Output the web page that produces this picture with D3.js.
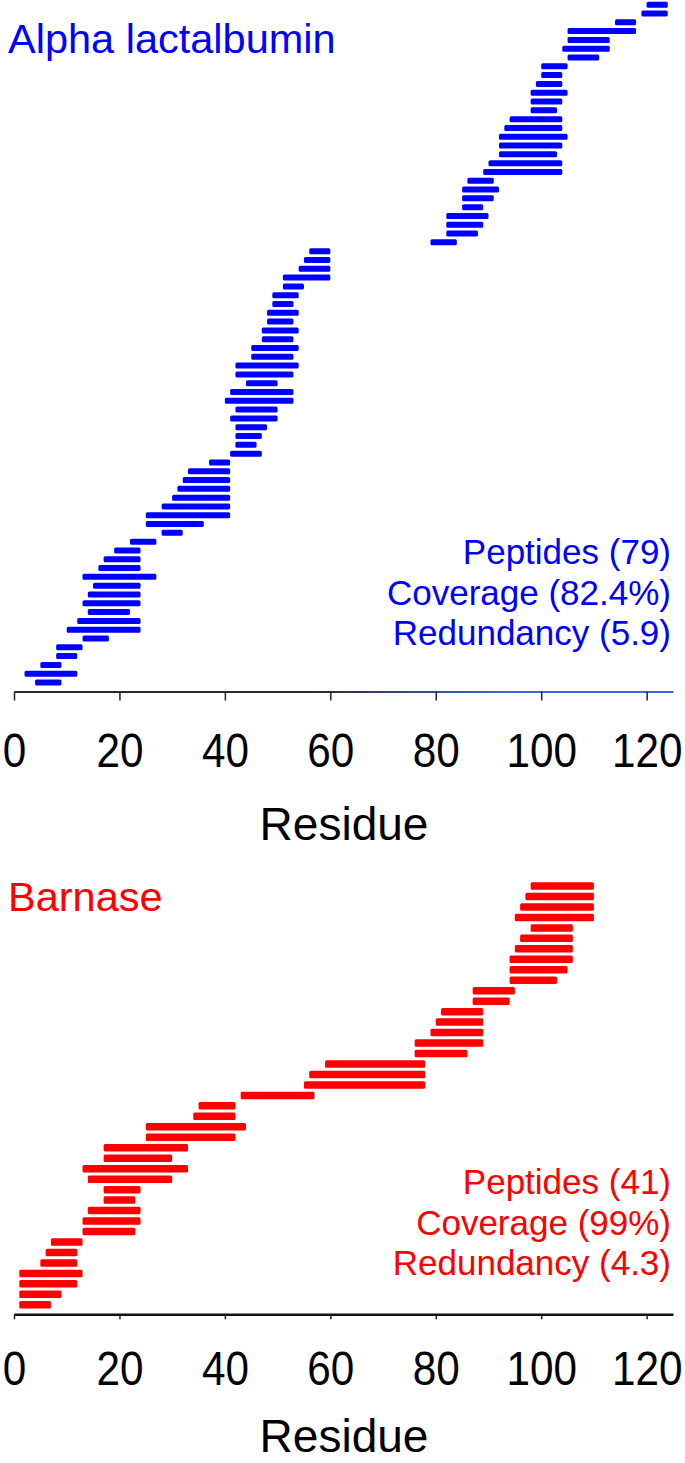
<!DOCTYPE html>
<html>
<head>
<meta charset="utf-8">
<script src="https://cdn.jsdelivr.net/npm/d3@7"></script>
<style>
  body { margin: 0; background: #fff; }
  text { font-family: "Liberation Sans", Arial, sans-serif; }
</style>
</head>
<body>
<div id="chart"></div>
<script>
// peptide start / end residues, bottom row first
const alphaStart = [4, 2, 5, 8, 8, 13, 10, 12, 14, 13, 14, 15, 13, 16, 17, 19, 22, 28, 25, 25,
  28, 30, 31, 32, 33, 37, 41, 42, 42, 42, 41, 42, 40, 41, 44, 42, 42, 45, 45, 47,
  47, 48, 48, 49, 49, 51, 51, 54, 55, 56, 79, 82, 82, 82, 85, 85, 85, 86, 89, 90,
  92, 92, 92, 93, 94, 98, 98, 98, 99, 100, 100, 105, 104, 105, 105, 114, 119, 120];
const alphaEnd = [9, 12, 9, 12, 13, 18, 24, 24, 22, 24, 24, 24, 27, 24, 24, 24, 27, 32, 36, 41,
  41, 41, 41, 41, 41, 41, 47, 46, 47, 48, 50, 50, 53, 53, 50, 53, 54, 53, 54, 53,
  54, 53, 54, 53, 54, 55, 60, 60, 60, 60, 84, 88, 89, 90, 89, 91, 92, 91, 104, 104,
  103, 104, 105, 104, 104, 103, 104, 105, 104, 104, 105, 111, 113, 113, 118, 118, 124, 124];

const barnaseStart = [1, 1, 1, 1, 5, 6, 7, 13, 13, 14, 17, 17, 14, 13, 17, 17, 25, 25, 34, 35,
  43, 55, 56, 59, 76, 76, 79, 80, 81, 87, 87, 94, 94, 94, 95, 96, 98, 95, 96, 97, 98];
const barnaseEnd = [7, 9, 12, 13, 12, 12, 13, 23, 24, 24, 23, 24, 30, 33, 30, 33, 42, 44, 42, 42,
  57, 78, 78, 78, 86, 89, 89, 89, 89, 94, 95, 103, 105, 106, 106, 106, 106, 110, 110, 110, 110];

const tickLabels = [0, 20, 40, 60, 80, 100, 120];

const alphaStats = ["Peptides (79)", "Coverage (82.4%)", "Redundancy (5.9)"];
const barnaseStats = ["Peptides (41)", "Coverage (99%)", "Redundancy (4.3)"];

const width = 685;
const height = 1463;

const svg = d3.select("#chart")
  .append("svg")
  .attr("width", width)
  .attr("height", height);

// shared residue scale
const x = d3.scaleLinear().domain([0, 125]).range([14, 673]);

// gradient for the top axis line (dark on the left, blue on the right)
const grad = svg.append("defs").append("linearGradient")
  .attr("id", "axisGrad")
  .attr("gradientUnits", "userSpaceOnUse")
  .attr("x1", 14).attr("x2", 673).attr("y1", 0).attr("y2", 0);
grad.append("stop").attr("offset", "0%").attr("stop-color", "#2a2a2a");
grad.append("stop").attr("offset", "45%").attr("stop-color", "#2a2a2a");
grad.append("stop").attr("offset", "75%").attr("stop-color", "#4466d6");
grad.append("stop").attr("offset", "100%").attr("stop-color", "#4466d6");

function drawPanel(cfg) {
  const n = cfg.start.length;
  const y = d3.scaleLinear().domain([1, n]).range([cfg.rowBottom, cfg.rowTop]);
  const rows = d3.range(n);

  // peptide bars
  svg.append("g")
    .selectAll("rect")
    .data(rows)
    .enter()
    .append("rect")
    .attr("x", i => x(cfg.start[i]))
    .attr("y", i => y(i + 1) - cfg.barH / 2)
    .attr("width", i => x(cfg.end[i]) - x(cfg.start[i]))
    .attr("height", cfg.barH)
    .attr("rx", 1.5)
    .attr("fill", cfg.color);

  // x axis
  const ax = svg.append("g")
    .attr("transform", `translate(0,${cfg.axisY})`)
    .call(d3.axisBottom(x)
      .tickValues(tickLabels)
      .tickFormat(d3.format("d"))
      .tickSize(cfg.tickLen)
      .tickSizeOuter(0)
      .tickPadding(32))
    .attr("font-size", null)
    .attr("font-family", null);
  ax.select(".domain")
    .attr("stroke", cfg.axisStroke)
    .attr("stroke-width", cfg.axisW);
  ax.selectAll(".tick line")
    .attr("stroke", "#222")
    .attr("stroke-width", 1.5);
  // tick labels are a bit condensed in the original
  ax.selectAll(".tick text")
    .attr("fill", "#000")
    .attr("transform", "scale(0.88,1)")
    .style("font-size", "48px");

  // axis title
  svg.append("text")
    .attr("x", 344)
    .attr("y", cfg.residueY)
    .attr("text-anchor", "middle")
    .style("font-size", "46px")
    .attr("fill", "#000")
    .text("Residue");

  // protein name
  svg.append("text")
    .attr("x", 8)
    .attr("y", cfg.titleY)
    .style("font-size", "41.5px")
    .attr("fill", cfg.color)
    .text(cfg.name);

  // stats
  svg.append("g")
    .selectAll("text")
    .data(cfg.stats)
    .enter()
    .append("text")
    .attr("x", 671)
    .attr("y", (d, i) => cfg.statsY + i * 40.5)
    .attr("text-anchor", "end")
    .style("font-size", "35px")
    .attr("fill", cfg.color)
    .text(d => d);
}

drawPanel({
  name: "Alpha lactalbumin", color: "#0000ff",
  start: alphaStart, end: alphaEnd, stats: alphaStats,
  rowBottom: 682.5, rowTop: 4.7, barH: 6,
  axisY: 691.5, tickLen: 9, axisStroke: "url(#axisGrad)", axisW: 1.8,
  residueY: 840, titleY: 53, statsY: 564
});

drawPanel({
  name: "Barnase", color: "#ff0000",
  start: barnaseStart, end: barnaseEnd, stats: barnaseStats,
  rowBottom: 1304.8, rowTop: 886, barH: 7.5,
  axisY: 1314.3, tickLen: 5, axisStroke: "#111", axisW: 2.4,
  residueY: 1452, titleY: 911, statsY: 1194
});
</script>
</body>
</html>
